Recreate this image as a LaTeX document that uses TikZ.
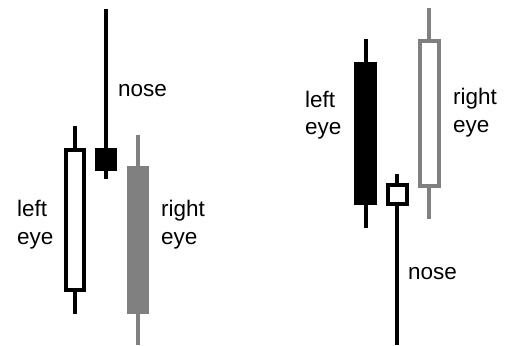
\documentclass[tikz,border=0pt]{standalone}
\usepackage{fontspec}
\setmainfont{Liberation Sans}
\definecolor{candlegray}{RGB}{128,128,128}
\begin{document}
\begin{tikzpicture}[x=1pt,y=-1pt,
  wick/.style={line width=4.4pt},
  body/.style={line width=4pt},
  lbl/.style={inner sep=0pt, align=left, font=\fontsize{22.5}{27.6}\selectfont}]
\useasboundingbox (0,0) rectangle (505,345);
% ---- left figure ----
% left eye (hollow black)
\draw[wick] (75,126) -- (75,150);
\draw[wick] (75,290) -- (75,314);
\draw[body, fill=white] (65.5,150) rectangle (84,290);
% nose (filled black)
\draw[wick] (106,9) -- (106,179);
\fill (95,148) rectangle (117,171);
% right eye (filled gray)
\draw[wick, candlegray] (138,135) -- (138,345);
\fill[candlegray] (127,166) rectangle (149,314);
\node[lbl, anchor=north west] (le1) at (17,200) {left\\eye};
\node[lbl, anchor=base west] (no1) at (118,96.7) {nose};
\node[lbl, anchor=north west] (re1) at (161,200) {right\\eye};
% ---- right figure ----
% left eye (filled black)
\draw[wick] (366,39) -- (366,228);
\fill (354,62) rectangle (377,205);
% right eye (hollow gray)
\draw[wick, candlegray] (429,8) -- (429,42);
\draw[wick, candlegray] (429,185) -- (429,219);
\draw[body, candlegray, fill=white] (419.5,41.5) rectangle (439,185.5);
% nose (hollow black)
\draw[wick] (397,174) -- (397,185);
\draw[wick] (397,204) -- (397,345);
\draw[body, fill=white] (387.7,184.7) rectangle (406.5,204);
\node[lbl, anchor=north west] (le2) at (305,90.5) {left\\eye};
\node[lbl, anchor=north west] (re2) at (453,88) {right\\eye};
\node[lbl, anchor=base west] (no2) at (408,279.3) {nose};
\end{tikzpicture}
\end{document}
